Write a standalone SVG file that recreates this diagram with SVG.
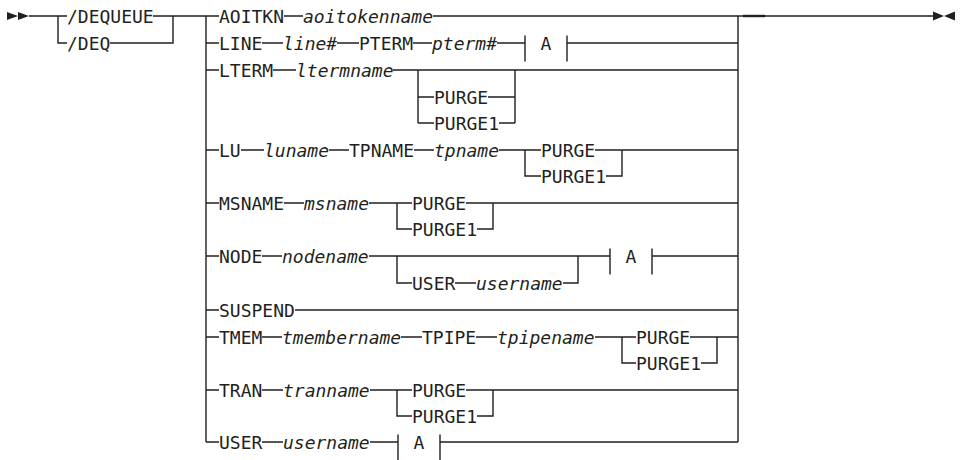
<svg xmlns="http://www.w3.org/2000/svg" width="961" height="460" viewBox="0 0 961 460">
<style>
text{font-family:"DejaVu Sans Mono","Liberation Mono",monospace;font-size:18px;fill:#231f20}
.v{font-style:italic}
.a{text-anchor:middle}
.ln{fill:none;stroke:#231f20;stroke-width:1.4}
.ar{fill:#231f20}
</style>
<rect width="961" height="460" fill="#fff"/>
<g id="connectors" class="ln">
<path d="M29,16H67M58,16V43H67M153,16H206M110,43H173V16"/>
<path d="M206,16V442M206,43H219M206,70H219M206,150H219M206,203H219M206,256H219M206,310H219M206,337H219M206,390H219M206,442H219M206,16H219"/>
<path d="M284,16H303M433,16H738"/>
<path d="M262,43H283M337,43H359M413,43H432M497,43H525M567,43H738"/>
<path d="M273,70H296M393,70H738M418,70V123M418,97H434M418,123H434M488,97H515M499,123H515M515,123V70"/>
<path d="M241,150H264M329,150H349M414,150H434M499,150H541M525,150V176H541M595,150H738M606,176H622V150"/>
<path d="M284,203H304M369,203H412M397,203V229H412M466,203H738M477,229H493V203"/>
<path d="M262,256H282M369,256H610M652,256H738M397,256V283H412M455,283H476M563,283H578V256"/>
<path d="M295,310H738"/>
<path d="M262,337H282M401,337H422M476,337H497M595,337H636M622,337V363H636M690,337H738M701,363H717V337"/>
<path d="M262,390H283M370,390H412M397,390V416H412M466,390H738M477,416H493V390"/>
<path d="M262,442H283M370,442H398M440,442H738"/>
<path d="M738,16V442M738,16H933"/>
<path d="M743,16H765" style="stroke-width:2.4"/>
<path class="ar" style="stroke:none" d="M7,12V20L18,16ZM18,12V20L29,16Z"/>
<path class="ar" style="stroke:none" d="M933,11.5V20.5L944,16ZM955,11.5V20.5L944,16Z"/>
</g>
<g id="n-dequeue"><text x="67" y="22.5">/DEQUEUE</text></g>
<g id="n-deq"><text x="67" y="49.5">/DEQ</text></g>
<g id="n-aoitkn"><text x="219" y="22.5">AOITKN</text><text class="v" x="303" y="22.5">aoitokenname</text></g>
<g id="n-line"><text x="219" y="49.5">LINE</text><text class="v" x="283" y="49.5">line#</text><text x="359" y="49.5">PTERM</text><text class="v" x="432" y="49.5">pterm#</text></g>
<g id="n-frag-a1" class="ln"><path d="M525,35.5V61.5M567,35.5V61.5"/><text class="a" x="546" y="49.5" style="stroke:none">A</text></g>
<g id="n-lterm"><text x="219" y="76.5">LTERM</text><text class="v" x="296" y="76.5">ltermname</text><text x="434" y="103.5">PURGE</text><text x="434" y="129.5">PURGE1</text></g>
<g id="n-lu"><text x="219" y="156.5">LU</text><text class="v" x="264" y="156.5">luname</text><text x="349" y="156.5">TPNAME</text><text class="v" x="434" y="156.5">tpname</text><text x="541" y="156.5">PURGE</text><text x="541" y="182.5">PURGE1</text></g>
<g id="n-msname"><text x="219" y="209.5">MSNAME</text><text class="v" x="304" y="209.5">msname</text><text x="412" y="209.5">PURGE</text><text x="412" y="235.5">PURGE1</text></g>
<g id="n-node"><text x="219" y="262.5">NODE</text><text class="v" x="282" y="262.5">nodename</text><text x="412" y="289.5">USER</text><text class="v" x="476" y="289.5">username</text></g>
<g id="n-frag-a2" class="ln"><path d="M610,248.5V274.5M652,248.5V274.5"/><text class="a" x="631" y="262.5" style="stroke:none">A</text></g>
<g id="n-suspend"><text x="219" y="316.5">SUSPEND</text></g>
<g id="n-tmem"><text x="219" y="343.5">TMEM</text><text class="v" x="282" y="343.5">tmembername</text><text x="422" y="343.5">TPIPE</text><text class="v" x="497" y="343.5">tpipename</text><text x="636" y="343.5">PURGE</text><text x="636" y="369.5">PURGE1</text></g>
<g id="n-tran"><text x="219" y="396.5">TRAN</text><text class="v" x="283" y="396.5">tranname</text><text x="412" y="396.5">PURGE</text><text x="412" y="422.5">PURGE1</text></g>
<g id="n-user"><text x="219" y="448.5">USER</text><text class="v" x="283" y="448.5">username</text></g>
<g id="n-frag-a3" class="ln"><path d="M398,434.5V460M440,434.5V460"/><text class="a" x="419" y="448.5" style="stroke:none">A</text></g>
</svg>
